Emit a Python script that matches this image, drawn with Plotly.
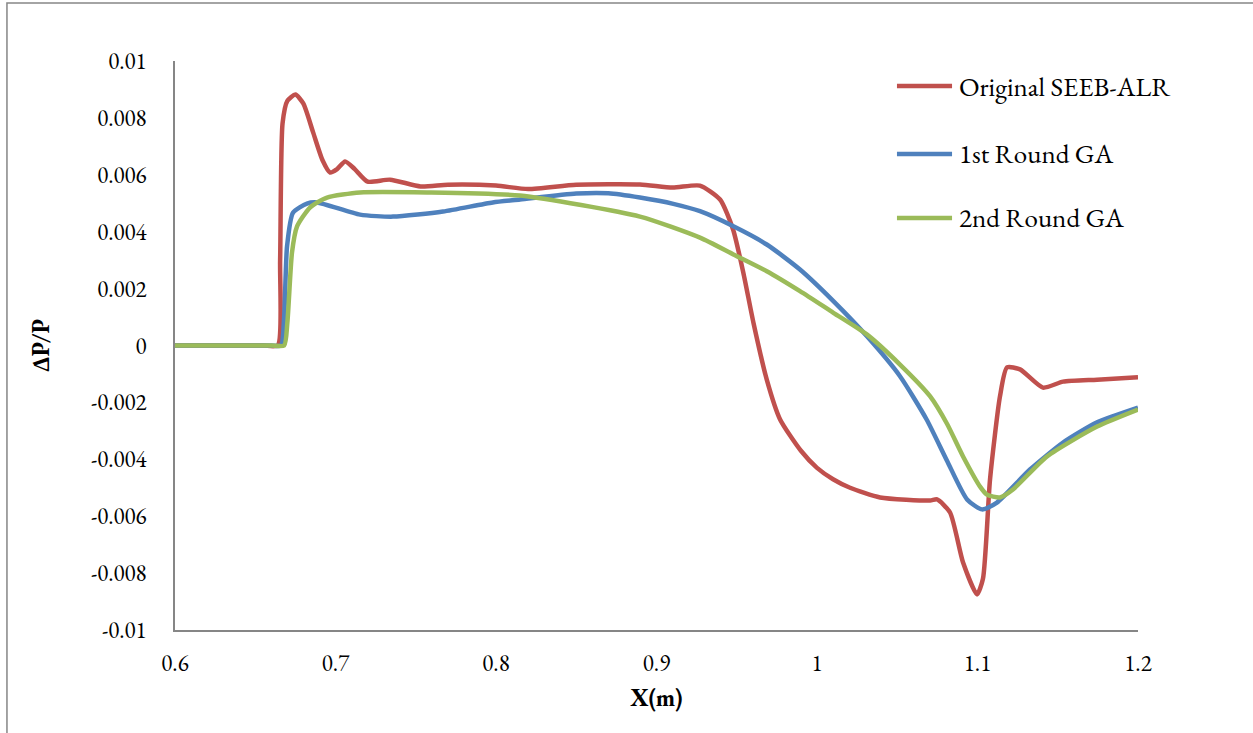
import plotly.graph_objects as go

# Original SEEB-ALR
x_orig = [0.600, 0.620, 0.640, 0.655, 0.664, 0.6655, 0.667, 0.670, 0.675, 0.680, 0.686, 0.692, 0.6966,
          0.701, 0.706, 0.712, 0.720, 0.734, 0.753, 0.770, 0.800, 0.820, 0.850, 0.8897, 0.910, 0.927,
          0.9396, 0.9477, 0.9541, 0.9604, 0.9687, 0.977, 0.990, 1.000, 1.010, 1.0206, 1.0393,
          1.0704, 1.0748, 1.0829, 1.091, 1.0997, 1.1034, 1.1078, 1.114, 1.1184, 1.1265, 1.1408, 1.1533,
          1.1745, 1.200]
y_orig = [0.0, 0.0, 0.0, 0.0, 0.0, 0.0030, 0.0078, 0.0086, 0.00882, 0.0085, 0.0075, 0.0065, 0.00608,
          0.0062, 0.00647, 0.0062, 0.00576, 0.00583, 0.00559, 0.00565, 0.00562, 0.0055, 0.00565, 0.00566,
          0.00555, 0.00562, 0.00513, 0.00408, 0.00256, 0.0008, -0.0012, -0.0026, -0.0037, -0.0043,
          -0.0047, -0.0050, -0.00534, -0.00545, -0.00541, -0.00587, -0.00763, -0.00875, -0.0082, -0.00471,
          -0.00179, -0.00077, -0.00084, -0.00148, -0.00127, -0.0012, -0.00112]

# 1st Round GA
x_ga1 = [0.600, 0.630, 0.660, 0.666, 0.668, 0.6698, 0.6735, 0.6822, 0.6885, 0.7153, 0.7358, 0.767, 0.798,
         0.815, 0.850, 0.870, 0.8897, 0.9105, 0.9271, 0.9479, 0.9687, 0.9894, 1.0102, 1.031, 1.0517,
         1.0683, 1.081, 1.0935, 1.1028, 1.1121, 1.1327, 1.1533, 1.1745, 1.200]
y_ga1 = [0.0, 0.0, 0.0, 0.0, 0.0010, 0.00348, 0.00467, 0.00499, 0.00503, 0.0046, 0.00453, 0.00471, 0.00503,
         0.00513, 0.00534, 0.00535, 0.0052, 0.00498, 0.00472, 0.00419, 0.00355, 0.00267, 0.00156, 0.00033,
         -0.00108, -0.0026, -0.00405, -0.00541, -0.00576, -0.00552, -0.00436, -0.00341, -0.0027, -0.00218]

# 2nd Round GA
x_ga2 = [0.600, 0.630, 0.660, 0.668, 0.670, 0.6729, 0.676, 0.6841, 0.6947, 0.7153, 0.757, 0.815, 0.8897,
         0.9271, 0.9479, 0.9687, 0.9894, 1.0102, 1.031, 1.0517, 1.0704, 1.081, 1.091, 1.1016, 1.1059,
         1.114, 1.1221, 1.1433, 1.1745, 1.200]
y_ga2 = [0.0, 0.0, 0.0, 0.0, 0.0008, 0.00327, 0.00418, 0.00485, 0.0052, 0.00538, 0.00538, 0.00527, 0.00453,
         0.00379, 0.0032, 0.00261, 0.00191, 0.00115, 0.00039, -0.00067, -0.00178, -0.00275, -0.0039,
         -0.00496, -0.00524, -0.00534, -0.00506, -0.0039, -0.00285, -0.00225]

series_names = ["Original SEEB-ALR", "1st Round GA", "2nd Round GA"]
series_colors = ["#C0504D", "#4F81BD", "#9BBB59"]

x_ticks = [0.6, 0.7, 0.8, 0.9, 1.0, 1.1, 1.2]
x_tick_labels = ["0.6", "0.7", "0.8", "0.9", "1", "1.1", "1.2"]
y_ticks = [0.01, 0.008, 0.006, 0.004, 0.002, 0, -0.002, -0.004, -0.006, -0.008, -0.01]
y_tick_labels = ["0.01", "0.008", "0.006", "0.004", "0.002", "0", "-0.002", "-0.004", "-0.006", "-0.008", "-0.01"]

FONT = "Garamond, 'EB Garamond', 'Liberation Serif', 'DejaVu Serif', serif"

fig = go.Figure()
for name, xs, ys, col in zip(series_names, [x_orig, x_ga1, x_ga2], [y_orig, y_ga1, y_ga2], series_colors):
    fig.add_trace(go.Scatter(
        x=xs, y=ys, name=name, mode="lines", showlegend=False,
        line=dict(color=col, width=4.5, shape="spline", smoothing=0.6),
    ))

# manual legend (Excel style: long line sample then text)
legend_y = [0.956, 0.8366, 0.7241]
shapes = [
    dict(type="rect", xref="paper", yref="paper", x0=-0.1745, x1=1.3, y0=-0.3, y1=1.1019,
         line=dict(color="#868686", width=1.5), fillcolor="rgba(0,0,0,0)", layer="below"),
]
annotations = []
for name, col, ly in zip(series_names, series_colors, legend_y):
    shapes.append(dict(type="line", xref="paper", yref="paper", x0=0.7497, x1=0.8069, y0=ly, y1=ly,
                       line=dict(color=col, width=4.5)))
    annotations.append(dict(xref="paper", yref="paper", x=0.812, y=ly, xanchor="left", yanchor="middle",
                            text=name, showarrow=False, font=dict(family=FONT, size=27, color="black")))

fig.update_layout(
    width=1253, height=733,
    margin=dict(l=175, r=115, t=61, b=103),
    paper_bgcolor="white", plot_bgcolor="white",
    font=dict(family=FONT, size=23, color="black"),
    showlegend=False,
    xaxis=dict(range=[0.6, 1.2], tickvals=x_ticks, ticktext=x_tick_labels,
               showgrid=False, zeroline=False, showline=True, linecolor="#868686", linewidth=1.5,
               ticks="", ticklabelstandoff=12,
               title=dict(text="<b>X(m)</b>", font=dict(family=FONT, size=24), standoff=12)),
    yaxis=dict(range=[-0.01, 0.01], tickvals=y_ticks, ticktext=y_tick_labels,
               showgrid=False, zeroline=False, showline=True, linecolor="#868686", linewidth=1.5,
               ticks="", ticklabelstandoff=22,
               title=dict(text="<b>ΔP/P</b>", font=dict(family=FONT, size=24), standoff=34)),
    shapes=shapes,
    annotations=annotations,
)

fig.write_html("out.html", config={"displayModeBar": False},
               post_script="document.body.style.margin='0';document.body.style.overflow='hidden';")
